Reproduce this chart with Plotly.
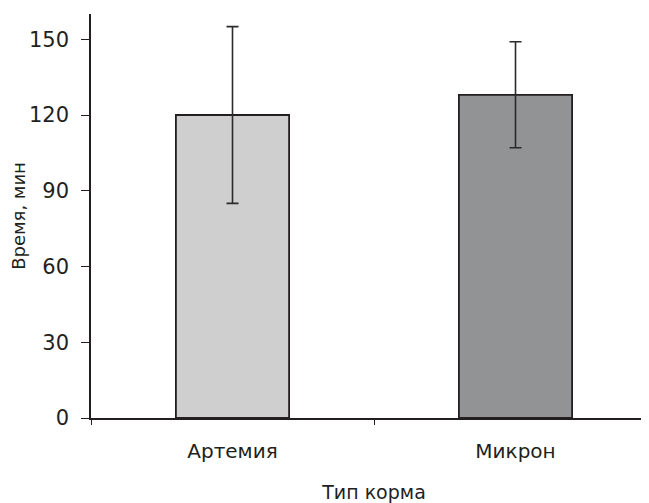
import plotly.graph_objects as go

categories = ["Артемия", "Микрон"]
values = [120, 128]
errors = [35, 21]
bar_colors = ["#cfcfcf", "#929394"]
y_ticks = [0, 30, 60, 90, 120, 150]

FONT = "DejaVu Sans"
INK = "#231f20"

fig = go.Figure()
fig.add_trace(go.Bar(
    x=categories,
    y=values,
    marker=dict(color=bar_colors, line=dict(color=INK, width=1.8)),
    error_y=dict(type="data", array=errors, visible=True, color="#2b2b2b",
                 thickness=1.6, width=6),
    width=0.4,
))

fig.update_layout(
    width=649, height=503,
    margin=dict(l=81, r=0, t=6, b=93),
    plot_bgcolor="white", paper_bgcolor="white",
    showlegend=False,
    font=dict(family=FONT, color=INK, size=18),
)
fig.update_xaxes(
    range=[-0.5, 1.5],
    showline=True, linecolor=INK, linewidth=1.6,
    ticks="outside", tickson="boundaries", ticklen=5, tickwidth=1.2, tickcolor=INK,
    ticklabelstandoff=14,
    tickfont=dict(size=20, family=FONT, color=INK),
    title=dict(text="Тип корма", font=dict(size=19, family=FONT, color=INK), standoff=24),
    showgrid=False, zeroline=False,
)
fig.update_yaxes(
    range=[0, 160],
    tickvals=y_ticks,
    showline=True, linecolor=INK, linewidth=1.6,
    ticks="outside", ticklen=8, tickwidth=1.2, tickcolor=INK,
    ticklabelstandoff=8,
    tickfont=dict(size=21, family=FONT, color=INK),
    title=dict(text="Время, мин", font=dict(size=18, family=FONT, color=INK), standoff=8),
    showgrid=False, zeroline=False,
)

fig.write_html("out.html")
